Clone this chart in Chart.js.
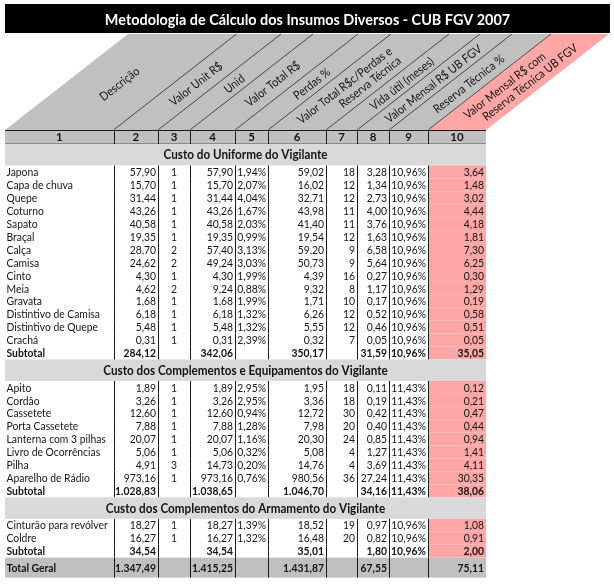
<!DOCTYPE html>
<html>
<head>
<meta charset="utf-8">
<title>Metodologia de Cálculo dos Insumos Diversos - CUB FGV 2007</title>
<script src="https://cdn.jsdelivr.net/npm/chart.js@4.4.1/dist/chart.umd.min.js"></script>
<style>
  html, body { margin: 0; padding: 0; background: #fff; }
  #wrap { width: 614px; height: 584px; position: relative; }
</style>
</head>
<body>
<div id="wrap"><canvas id="insumos-chart" width="614" height="584"></canvas></div>
<script>
// ---- data ----
const titleText = 'Metodologia de Cálculo dos Insumos Diversos - CUB FGV 2007';

const columnTitles = [
  ['Descrição'],
  ['Valor Unit R$'],
  ['Unid'],
  ['Valor Total R$'],
  ['Perdas %'],
  ['Valor Total R$c/Perdas e', 'Reserva Técnica'],
  ['Vida útil (meses)'],
  ['Valor Mensal R$ UB FGV'],
  ['Reserva Técnica %'],
  ['Valor Mensal R$ com', 'Reserva Técnica UB FGV'],
];
const columnNumbers = ['1', '2', '3', '4', '5', '6', '7', '8', '9', '10'];

const sectionTitles = [
  'Custo do Uniforme do Vigilante',
  'Custo dos Complementos e Equipamentos do Vigilante',
  'Custo dos Complementos do Armamento do Vigilante',
];

// descrição, valor unit, unid, valor total, perdas %, total c/ perdas, vida útil, mensal, reserva %, mensal c/ reserva
const uniformeRows = [
  ['Japona', 57.90, 1, 57.90, 1.94, 59.02, 18, 3.28, 10.96, 3.64],
  ['Capa de chuva', 15.70, 1, 15.70, 2.07, 16.02, 12, 1.34, 10.96, 1.48],
  ['Quepe', 31.44, 1, 31.44, 4.04, 32.71, 12, 2.73, 10.96, 3.02],
  ['Coturno', 43.26, 1, 43.26, 1.67, 43.98, 11, 4.00, 10.96, 4.44],
  ['Sapato', 40.58, 1, 40.58, 2.03, 41.40, 11, 3.76, 10.96, 4.18],
  ['Braçal', 19.35, 1, 19.35, 0.99, 19.54, 12, 1.63, 10.96, 1.81],
  ['Calça', 28.70, 2, 57.40, 3.13, 59.20, 9, 6.58, 10.96, 7.30],
  ['Camisa', 24.62, 2, 49.24, 3.03, 50.73, 9, 5.64, 10.96, 6.25],
  ['Cinto', 4.30, 1, 4.30, 1.99, 4.39, 16, 0.27, 10.96, 0.30],
  ['Meia', 4.62, 2, 9.24, 0.88, 9.32, 8, 1.17, 10.96, 1.29],
  ['Gravata', 1.68, 1, 1.68, 1.99, 1.71, 10, 0.17, 10.96, 0.19],
  ['Distintivo de Camisa', 6.18, 1, 6.18, 1.32, 6.26, 12, 0.52, 10.96, 0.58],
  ['Distintivo de Quepe', 5.48, 1, 5.48, 1.32, 5.55, 12, 0.46, 10.96, 0.51],
  ['Crachá', 0.31, 1, 0.31, 2.39, 0.32, 7, 0.05, 10.96, 0.05],
];
const uniformeSubtotal = ['Subtotal', 284.12, null, 342.06, null, 350.17, null, 31.59, 10.96, 35.05];

const complementosRows = [
  ['Apito', 1.89, 1, 1.89, 2.95, 1.95, 18, 0.11, 11.43, 0.12],
  ['Cordão', 3.26, 1, 3.26, 2.95, 3.36, 18, 0.19, 11.43, 0.21],
  ['Cassetete', 12.60, 1, 12.60, 0.94, 12.72, 30, 0.42, 11.43, 0.47],
  ['Porta Cassetete', 7.88, 1, 7.88, 1.28, 7.98, 20, 0.40, 11.43, 0.44],
  ['Lanterna com 3 pilhas', 20.07, 1, 20.07, 1.16, 20.30, 24, 0.85, 11.43, 0.94],
  ['Livro de Ocorrências', 5.06, 1, 5.06, 0.32, 5.08, 4, 1.27, 11.43, 1.41],
  ['Pilha', 4.91, 3, 14.73, 0.20, 14.76, 4, 3.69, 11.43, 4.11],
  ['Aparelho de Rádio', 973.16, 1, 973.16, 0.76, 980.56, 36, 27.24, 11.43, 30.35],
];
const complementosSubtotal = ['Subtotal', 1028.83, null, 1038.65, null, 1046.70, null, 34.16, 11.43, 38.06];

const armamentoRows = [
  ['Cinturão para revólver', 18.27, 1, 18.27, 1.39, 18.52, 19, 0.97, 10.96, 1.08],
  ['Coldre', 16.27, 1, 16.27, 1.32, 16.48, 20, 0.82, 10.96, 0.91],
];
const armamentoSubtotal = ['Subtotal', 34.54, null, 34.54, null, 35.01, null, 1.80, 10.96, 2.00];

const totalGeral = ['Total Geral', 1347.49, null, 1415.25, null, 1431.87, null, 67.55, null, 75.11];

// ---- layout (table units, 1 unit ~ 1px) ----
const COL_EDGES = [0, 108.5, 153, 185, 230, 263, 321, 352, 384, 423, 481];
const COL_ALIGN = ['left', 'right', 'center', 'right', 'right', 'right', 'right', 'right', 'right', 'right'];
const COL_FORMAT = ['text', 'money', 'int', 'money', 'pct', 'money', 'int', 'money', 'pct', 'money'];
const TITLE_W = 605, TITLE_H = 29;
const HEAD_TOP = 30, HEAD_BOTTOM = 126, SLANT = 123;
const NUM_H = 14, BAND_H = 21.5, ROW_H = 12.93, TOTAL_H = 20;

const FONT = 'Lato, "Open Sans", sans-serif';
const SQUEEZE = 0.9; // Lato is wider than the sheet's Calibri
const GRAY = '#c0c0c0', BAND = '#d9d9d9', PINK = '#ffa6a6', INK = '#141414';

function fmt(v, kind) {
  if (v === null || v === undefined) return '';
  if (kind === 'text') return v;
  if (kind === 'int') return String(v);
  const parts = v.toFixed(2).split('.');
  const s = parts[0].replace(/\B(?=(\d{3})+(?!\d))/g, '.') + ',' + parts[1];
  return kind === 'pct' ? s + '%' : s;
}

// narrow text: draw with a horizontal squeeze around the anchor point
function squeezedText(ctx, text, x, y, align, sx) {
  ctx.save();
  ctx.translate(x, y);
  ctx.scale(sx, 1);
  ctx.textAlign = align;
  ctx.fillText(text, 0, 0);
  ctx.restore();
}

// stack the rows top to bottom
const tableRows = [];
let cursor = HEAD_BOTTOM;
function pushRow(type, h, payload) {
  tableRows.push({ type, y0: cursor, y1: cursor + h, payload });
  cursor += h;
}
pushRow('number', NUM_H, columnNumbers);
[[uniformeRows, uniformeSubtotal], [complementosRows, complementosSubtotal], [armamentoRows, armamentoSubtotal]]
  .forEach(([items, sub], i) => {
    pushRow('band', BAND_H, sectionTitles[i]);
    items.forEach(r => pushRow('data', ROW_H, r));
    pushRow('subtotal', ROW_H, sub);
  });
pushRow('total', TOTAL_H, totalGeral);

const tablePainter = {
  id: 'tablePainter',
  afterDraw(chart) {
    const ctx = chart.ctx;
    const xs = chart.scales.x, ys = chart.scales.y;
    const X = v => xs.getPixelForValue(v);
    const Y = v => ys.getPixelForValue(v);
    const tableRight = COL_EDGES[COL_EDGES.length - 1];
    const lastEdge = COL_EDGES[COL_EDGES.length - 2];

    ctx.save();
    ctx.textBaseline = 'middle';

    // title bar
    ctx.fillStyle = '#000';
    ctx.fillRect(X(0), Y(0), X(TITLE_W) - X(0), Y(TITLE_H) - Y(0));
    ctx.fillStyle = '#fff';
    ctx.font = 'bold 15.5px ' + FONT;
    squeezedText(ctx, titleText, X(TITLE_W / 2), Y(TITLE_H / 2) + 1, 'center', 0.93);

    // slanted header
    const poly = (a, b, color) => {
      ctx.beginPath();
      ctx.moveTo(X(a), Y(HEAD_BOTTOM));
      ctx.lineTo(X(b), Y(HEAD_BOTTOM));
      ctx.lineTo(X(b + SLANT), Y(HEAD_TOP));
      ctx.lineTo(X(a + SLANT), Y(HEAD_TOP));
      ctx.closePath();
      ctx.fillStyle = color;
      ctx.fill();
    };
    poly(0, lastEdge, GRAY);
    poly(lastEdge, tableRight, PINK);

    ctx.strokeStyle = '#2a2a2a';
    ctx.lineWidth = 0.8;
    for (let i = 1; i < COL_EDGES.length - 1; i++) {
      ctx.beginPath();
      ctx.moveTo(X(COL_EDGES[i]), Y(HEAD_BOTTOM));
      ctx.lineTo(X(COL_EDGES[i] + SLANT), Y(HEAD_TOP));
      ctx.stroke();
    }

    const angle = Math.atan2(Y(HEAD_BOTTOM) - Y(HEAD_TOP), X(SLANT) - X(0));
    const run = SLANT / (HEAD_BOTTOM - HEAD_TOP);
    ctx.fillStyle = INK;
    ctx.font = '12px ' + FONT;
    columnTitles.forEach((lines, i) => {
      const mid = (COL_EDGES[i] + COL_EDGES[i + 1]) / 2;
      const h = 46;
      const cx = X(mid + h * run + 1.5), cy = Y(HEAD_BOTTOM - h);
      ctx.save();
      ctx.translate(cx, cy);
      ctx.rotate(-angle);
      if (lines.length === 1) {
        squeezedText(ctx, lines[0], 0, 0, 'center', SQUEEZE);
      } else {
        squeezedText(ctx, lines[0], -11, -6.5, 'center', SQUEEZE);
        squeezedText(ctx, lines[1], 11, 6.5, 'center', SQUEEZE);
      }
      ctx.restore();
    });

    // row fills
    tableRows.forEach(r => {
      const top = Y(r.y0), hgt = Y(r.y1) - Y(r.y0);
      if (r.type === 'number' || r.type === 'total') {
        ctx.fillStyle = GRAY;
        ctx.fillRect(X(0), top, X(tableRight) - X(0), hgt);
      } else if (r.type === 'band') {
        ctx.fillStyle = BAND;
        ctx.fillRect(X(0), top, X(tableRight) - X(0), hgt);
      } else {
        ctx.fillStyle = PINK;
        ctx.fillRect(X(lastEdge), top, X(tableRight) - X(lastEdge), hgt);
      }
    });

    // grid lines
    ctx.strokeStyle = '#1a1a1a';
    ctx.lineWidth = 1;
    ctx.beginPath();
    ctx.moveTo(X(0), Math.round(Y(HEAD_BOTTOM)) + 0.5);
    ctx.lineTo(X(tableRight), Math.round(Y(HEAD_BOTTOM)) + 0.5);
    ctx.stroke();
    ctx.strokeStyle = '#8a8a8a';
    ctx.beginPath();
    ctx.moveTo(X(0), Math.round(Y(HEAD_BOTTOM + NUM_H)) - 0.5);
    ctx.lineTo(X(tableRight), Math.round(Y(HEAD_BOTTOM + NUM_H)) - 0.5);
    ctx.stroke();

    ctx.strokeStyle = '#1a1a1a';
    tableRows.forEach(r => {
      if (r.type === 'band') return;
      for (let i = 1; i < COL_EDGES.length - 1; i++) {
        const px = Math.round(X(COL_EDGES[i])) + 0.5;
        ctx.beginPath();
        ctx.moveTo(px, Y(r.y0));
        ctx.lineTo(px, Y(r.y1));
        ctx.stroke();
      }
    });

    // texts
    ctx.fillStyle = INK;
    tableRows.forEach(r => {
      const cy = (Y(r.y0) + Y(r.y1)) / 2 + 0.5;
      if (r.type === 'band') {
        ctx.font = 'bold 13px ' + FONT;
        squeezedText(ctx, r.payload, X(tableRight / 2), cy, 'center', SQUEEZE);
        return;
      }
      if (r.type === 'number') {
        ctx.font = 'bold 11.5px ' + FONT;
        r.payload.forEach((t, i) =>
          squeezedText(ctx, t, X((COL_EDGES[i] + COL_EDGES[i + 1]) / 2), cy, 'center', 1));
        return;
      }
      const bold = r.type !== 'data';
      ctx.font = (bold ? 'bold ' : '') + '11.5px ' + FONT;
      r.payload.forEach((v, i) => {
        const text = fmt(v, COL_FORMAT[i]);
        if (!text) return;
        const align = COL_ALIGN[i];
        let tx;
        if (align === 'left') tx = X(COL_EDGES[i]) + 1.5;
        else if (align === 'right') tx = X(COL_EDGES[i + 1]) - 2;
        else tx = X((COL_EDGES[i] + COL_EDGES[i + 1]) / 2);
        squeezedText(ctx, text, tx, cy, align, SQUEEZE);
      });
    });

    ctx.restore();
  },
};

new Chart(document.getElementById('insumos-chart'), {
  type: 'scatter',
  data: { datasets: [{ data: [] }] },
  options: {
    responsive: false,
    animation: false,
    devicePixelRatio: 1,
    layout: { padding: { left: 5, top: 4, right: 0, bottom: 0 } },
    plugins: { legend: { display: false }, tooltip: { enabled: false } },
    scales: {
      x: { type: 'linear', min: 0, max: 609, display: false },
      y: { type: 'linear', min: 0, max: 580, reverse: true, display: false },
    },
  },
  plugins: [tablePainter],
});
</script>
</body>
</html>
